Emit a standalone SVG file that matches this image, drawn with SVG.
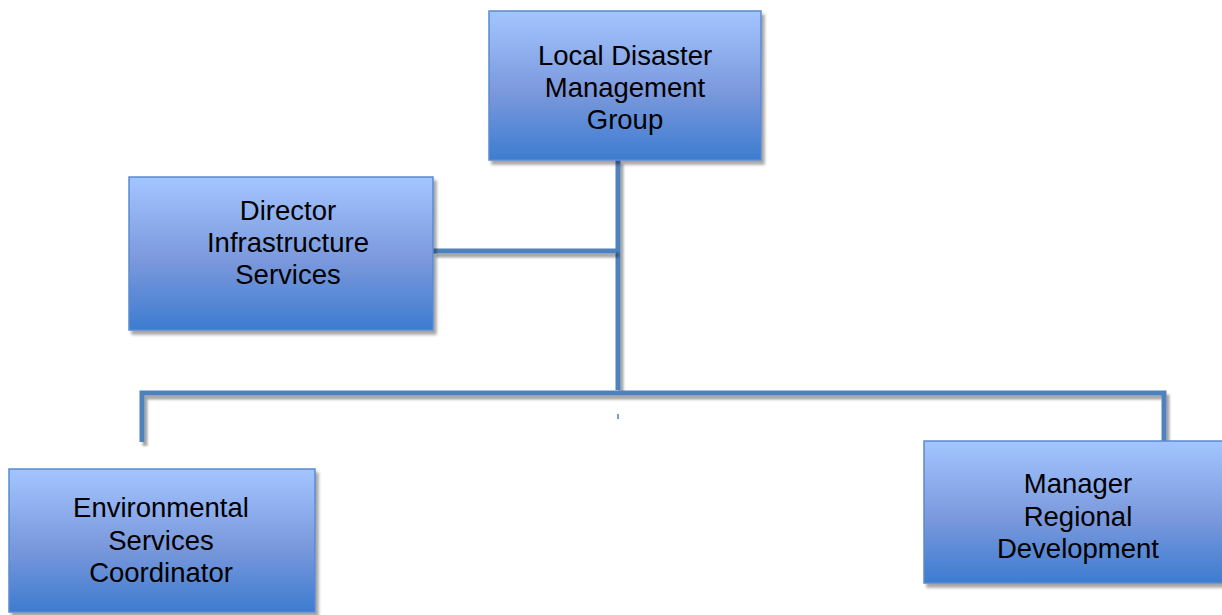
<svg xmlns="http://www.w3.org/2000/svg" width="1222" height="615" viewBox="0 0 1222 615">
<defs>
<linearGradient id="g" x1="0" y1="0" x2="0" y2="1">
<stop offset="0" stop-color="#a3c5ff"/>
<stop offset="0.55" stop-color="#7a98dc"/>
<stop offset="1" stop-color="#3d7cd0"/>
</linearGradient>
<filter id="sh" x="-5%" y="-5%" width="115%" height="115%">
<feGaussianBlur in="SourceAlpha" stdDeviation="1.5"/>
<feOffset dx="3" dy="4" result="b"/>
<feFlood flood-color="#000" flood-opacity="0.35"/>
<feComposite in2="b" operator="in"/>
<feMerge><feMergeNode/><feMergeNode in="SourceGraphic"/></feMerge>
</filter>
<filter id="lsh" filterUnits="userSpaceOnUse" x="0" y="0" width="1222" height="615">
<feGaussianBlur in="SourceAlpha" stdDeviation="1"/>
<feOffset dx="3" dy="4" result="b"/>
<feFlood flood-color="#000" flood-opacity="0.35"/>
<feComposite in2="b" operator="in"/>
<feMerge><feMergeNode/><feMergeNode in="SourceGraphic"/></feMerge>
</filter>
</defs>
<style>
.box{fill:url(#g);stroke:#5a8ad0;stroke-width:1.5;filter:url(#sh)}
.t{font-family:"Liberation Sans",Arial,sans-serif;font-size:27.5px;fill:#000;text-anchor:middle}
.ln{stroke:#4f81bd;stroke-width:5;fill:none;filter:url(#lsh)}
</style>
<rect width="1222" height="615" fill="#fff"/>
<g id="connectors">
<path class="ln" d="M618 160 V390"/>
<path class="ln" d="M433 251 H616"/>
<path class="ln" d="M142 442 V393 H1164 V442"/>
<path d="M618 414 V419" stroke="#4f81bd" stroke-width="1.5"/>
</g>
<g id="ldmg">
<rect class="box" x="489" y="11" width="272" height="149"/>
<text class="t" x="625" y="65">Local Disaster</text>
<text class="t" x="625" y="97">Management</text>
<text class="t" x="625" y="129">Group</text>
</g>
<g id="director">
<rect class="box" x="129" y="177" width="304" height="153"/>
<text class="t" x="288" y="220">Director</text>
<text class="t" x="288" y="252">Infrastructure</text>
<text class="t" x="288" y="284">Services</text>
</g>
<g id="env">
<rect class="box" x="9" y="469" width="306" height="143"/>
<text class="t" x="161" y="517">Environmental</text>
<text class="t" x="161" y="550">Services</text>
<text class="t" x="161" y="582">Coordinator</text>
</g>
<g id="manager">
<rect class="box" x="924" y="441" width="300" height="142"/>
<text class="t" x="1078" y="493">Manager</text>
<text class="t" x="1078" y="526">Regional</text>
<text class="t" x="1078" y="558">Development</text>
</g>
</svg>
